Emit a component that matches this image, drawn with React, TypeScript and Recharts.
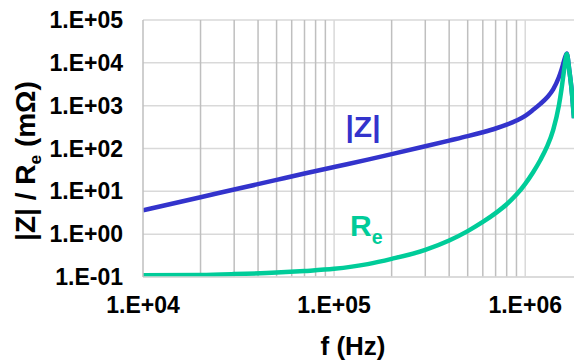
import { LineChart, Line, XAxis, YAxis, CartesianGrid, ReferenceLine } from "recharts";

const freq = [
  1e4, 2e4, 3e4, 5e4, 7e4, 1e5, 1.5e5, 2e5, 3e5, 4e5, 5e5, 6e5, 7e5, 8e5, 9e5, 1e6,
  1.1e6, 1.2e6, 1.3e6, 1.4e6, 1.5e6, 1.55e6, 1.6e6, 1.65e6, 1.7e6, 1.75e6, 1.8e6,
];
const zMag = [
  3.6, 7.3, 11, 18.5, 26, 37, 55, 74, 113, 153, 194, 240, 293, 360, 450, 580,
  800, 1100, 1550, 2400, 4600, 7000, 11500, 16500, 6800, 2300, 510,
];
const reVal = [
  0.11, 0.112, 0.117, 0.127, 0.138, 0.155, 0.2, 0.265, 0.43, 0.71, 1.18, 1.93, 3.1, 5.0, 8.4, 15,
  28, 54, 110, 270, 1000, 2500, 7100, 16000, 6800, 2300, 510,
];
const xTicks = [1e4, 1e5, 1e6];
const yTicks = [1e-1, 1e0, 1e1, 1e2, 1e3, 1e4, 1e5];
const minorX = [
  2e4, 3e4, 4e4, 5e4, 6e4, 7e4, 8e4, 9e4,
  2e5, 3e5, 4e5, 5e5, 6e5, 7e5, 8e5, 9e5,
];

const data = freq.map((f, i) => ({ f, z: zMag[i], re: reVal[i] }));

const BLUE = "#3333CC";
const GREEN = "#00CC99";
const FONT = "'Liberation Sans', Arial, sans-serif";

function sci(v: number) {
  const e = Math.round(Math.log10(v));
  const sign = e < 0 ? "-" : "+";
  return `1.E${sign}${String(Math.abs(e)).padStart(2, "0")}`;
}

const XTick = ({ x, payload }: any) => (
  <text x={x} y={313} textAnchor="middle" fontFamily={FONT} fontWeight="bold" fontSize={23} fill="#000">
    {sci(payload.value)}
  </text>
);

const YTick = ({ y, payload }: any) => (
  <text x={123} y={y + 8} textAnchor="end" fontFamily={FONT} fontWeight="bold" fontSize={23} fill="#000">
    {sci(payload.value)}
  </text>
);

export default function App() {
  return (
    <div style={{ position: "absolute", left: 0, top: 0, width: 574, height: 362, background: "#fff", fontFamily: FONT }}>
      <LineChart width={574} height={362} data={data} margin={{ top: 20, right: 0, bottom: 0, left: 0 }}>
        <CartesianGrid vertical={false} stroke="#d9d9d9" strokeWidth={1.5} />
        {minorX.map((v) => (
          <ReferenceLine key={v} x={v} stroke="#bfbfbf" strokeWidth={1.5} />
        ))}
        <ReferenceLine x={1e5} stroke="#d9d9d9" strokeWidth={1.5} />
        <ReferenceLine x={1e6} stroke="#d9d9d9" strokeWidth={1.5} />
        <XAxis
          dataKey="f"
          type="number"
          scale="log"
          domain={[1e4, 1.8e6]}
          ticks={xTicks}
          allowDataOverflow
          height={85}
          tickLine={false}
          axisLine={{ stroke: "#d9d9d9", strokeWidth: 1.5 }}
          tick={<XTick />}
          interval={0}
        />
        <YAxis
          type="number"
          scale="log"
          domain={[0.1, 1e5]}
          ticks={yTicks}
          allowDataOverflow
          width={143}
          tickLine={false}
          axisLine={{ stroke: "#bfbfbf", strokeWidth: 1.5 }}
          tick={<YTick />}
          interval={0}
        />
        <Line type="monotone" dataKey="z" stroke={BLUE} strokeWidth={4.5} dot={false} isAnimationActive={false} />
        <Line type="monotone" dataKey="re" stroke={GREEN} strokeWidth={4.5} dot={false} isAnimationActive={false} />
      </LineChart>
      <div
        style={{
          position: "absolute", left: 27, top: 161, transform: "translate(-50%, -50%) rotate(-90deg)",
          whiteSpace: "nowrap", fontWeight: "bold", fontSize: 28, lineHeight: "30px", color: "#000",
        }}
      >
        |Z| / R<span style={{ fontSize: "0.62em", position: "relative", top: 6 }}>e</span> (mΩ)
      </div>
      <div
        style={{
          position: "absolute", left: 353, top: 346, transform: "translate(-50%, -50%)",
          whiteSpace: "nowrap", fontWeight: "bold", fontSize: 26, lineHeight: "30px", color: "#000",
        }}
      >
        f (Hz)
      </div>
      <div
        style={{
          position: "absolute", left: 363, top: 127, transform: "translate(-50%, -50%)",
          whiteSpace: "nowrap", fontWeight: "bold", fontSize: 30, lineHeight: "32px", color: BLUE,
        }}
      >
        |Z|
      </div>
      <div
        style={{
          position: "absolute", left: 350, top: 211, whiteSpace: "nowrap", fontWeight: "bold",
          fontSize: 30, lineHeight: "30px", color: GREEN,
        }}
      >
        R<span style={{ fontSize: "0.65em", position: "relative", top: 8 }}>e</span>
      </div>
    </div>
  );
}
